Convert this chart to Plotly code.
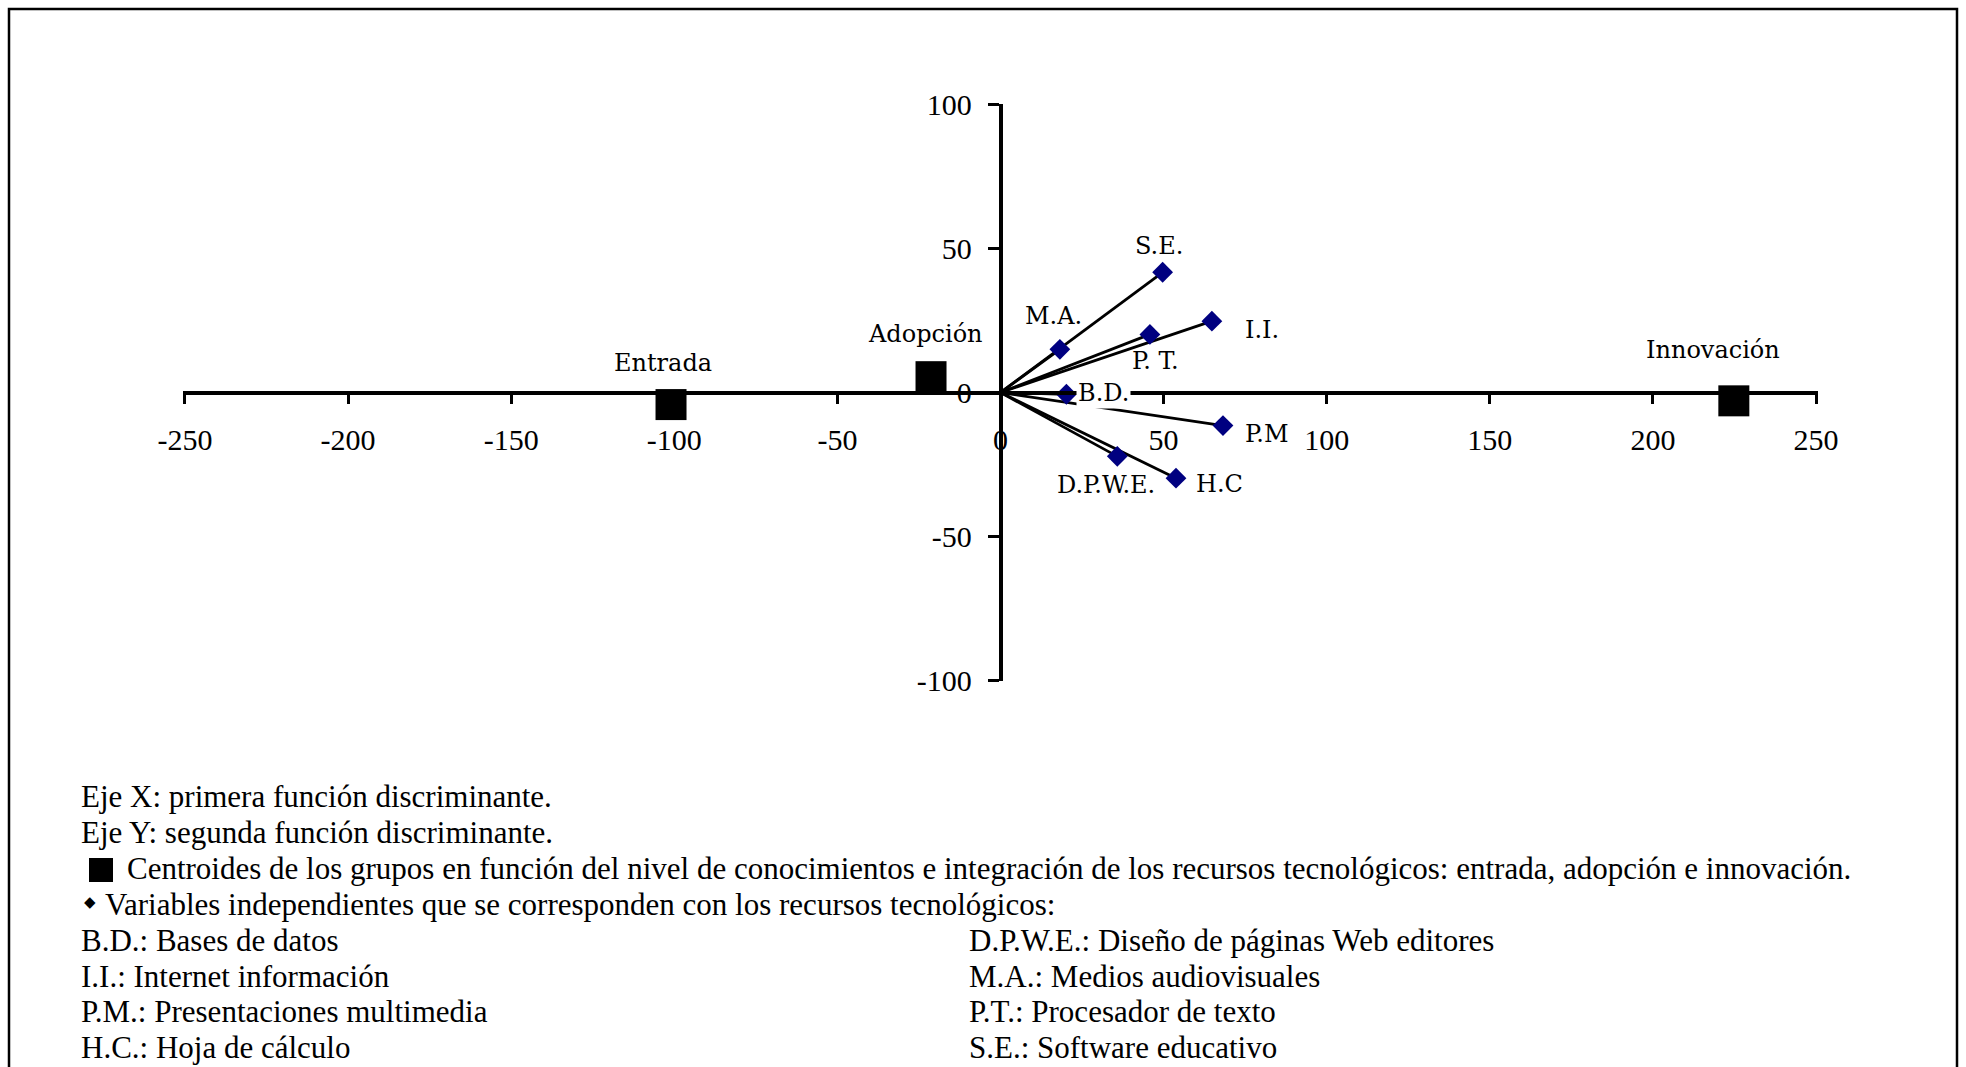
import plotly.graph_objects as go

# ---------------- data ----------------
var_labels = ["S.E.", "I.I.", "P. T.", "M.A.", "B.D.", "P.M", "D.P.W.E.", "H.C"]
var_x = [49.7, 64.8, 45.8, 18.2, 20.2, 68.2, 35.8, 53.8]
var_y = [41.8, 24.8, 20.2, 15.0, -0.6, -11.5, -22.2, -29.8]
var_label_x = [48.7, 80.2, 47.4, 16.1, 31.5, 81.7, 32.3, 67.2]
var_label_y = [50.8, 21.9, 11.0, 26.6, -0.2, -14.4, -32.3, -31.8]

group_labels = ["Entrada", "Adopción", "Innovación"]
group_x = [-101.0, -21.3, 224.8]
group_y = [-4.2, 5.5, -2.9]
group_label_x = [-103.6, -23.0, 218.5]
group_label_y = [10.3, 20.2, 14.7]

x_ticks = [-250, -200, -150, -100, -50, 0, 50, 100, 150, 200, 250]
y_ticks = [-100, -50, 0, 50, 100]

notes_left = [
    "Eje X: primera función discriminante.",
    "Eje Y: segunda función discriminante.",
]
note_square = "Centroides de los grupos en función del nivel de conocimientos e integración de los recursos tecnológicos: entrada, adopción e innovación."
note_diamond = "Variables independientes que se corresponden con los recursos tecnológicos:"
abbr_col1 = ["B.D.: Bases de datos", "I.I.: Internet información",
             "P.M.: Presentaciones multimedia", "H.C.: Hoja de cálculo"]
abbr_col2 = ["D.P.W.E.: Diseño de páginas Web editores", "M.A.: Medios audiovisuales",
             "P.T.: Procesador de texto", "S.E.: Software educativo"]

# ---------------- layout geometry ----------------
W, H = 1966, 1067
px_x0, px_x1 = 183, 1818      # x = -250 .. 250
px_y1, px_y0 = 104, 681       # y = 100 .. -100 (pixel from top)

def pxx(p):
    return p / W

def pxy(p):
    return 1 - p / H

fig = go.Figure()

# lines from origin to each variable
for vx, vy in zip(var_x, var_y):
    fig.add_trace(go.Scatter(x=[0, vx], y=[0, vy], mode="lines",
                             line=dict(color="black", width=2.8),
                             showlegend=False, hoverinfo="skip"))

# variable markers
fig.add_trace(go.Scatter(x=var_x, y=var_y, mode="markers",
                         marker=dict(symbol="diamond", size=16, color="#000080",
                                     line=dict(width=0)),
                         text=var_labels, showlegend=False))

# group centroids
fig.add_trace(go.Scatter(x=group_x, y=group_y, mode="markers",
                         marker=dict(symbol="square", size=31, color="black",
                                     line=dict(width=0)),
                         text=group_labels, showlegend=False))

label_font = dict(family="DejaVu Serif", size=24, color="black")
for t, lx, ly in zip(var_labels, var_label_x, var_label_y):
    fig.add_annotation(x=lx, y=ly, text=t, showarrow=False, font=label_font,
                       xanchor="center", yanchor="middle",
                       bgcolor="white" if t == "B.D." else None, borderpad=1)
for t, lx, ly in zip(group_labels, group_label_x, group_label_y):
    fig.add_annotation(x=lx, y=ly, text=t, showarrow=False, font=label_font,
                       xanchor="center", yanchor="middle")

# notes
note_font = dict(family="Liberation Serif", size=31, color="black")
line_ys = [796.5, 832.4, 868.3, 904.2, 940.1, 976.0, 1011.9, 1047.6]
left_px = 79
col2_px = 967
fig.add_annotation(xref="paper", yref="paper", x=pxx(left_px), y=pxy(line_ys[0]),
                   text=notes_left[0], showarrow=False, font=note_font,
                   xanchor="left", yanchor="middle")
fig.add_annotation(xref="paper", yref="paper", x=pxx(left_px), y=pxy(line_ys[1]),
                   text=notes_left[1], showarrow=False, font=note_font,
                   xanchor="left", yanchor="middle")
fig.add_shape(type="rect", xref="paper", yref="paper",
              x0=pxx(89), x1=pxx(113), y0=pxy(882), y1=pxy(858),
              fillcolor="black", line=dict(width=0))
fig.add_annotation(xref="paper", yref="paper", x=pxx(125), y=pxy(line_ys[2]),
                   text=note_square, showarrow=False, font=note_font,
                   xanchor="left", yanchor="middle")
fig.add_annotation(xref="paper", yref="paper", x=pxx(82), y=pxy(line_ys[3] - 2),
                   text="◆", showarrow=False,
                   font=dict(family="DejaVu Sans", size=15, color="black"),
                   xanchor="left", yanchor="middle")
fig.add_annotation(xref="paper", yref="paper", x=pxx(103), y=pxy(line_ys[3]),
                   text=note_diamond, showarrow=False, font=note_font,
                   xanchor="left", yanchor="middle")
for i, (a, b) in enumerate(zip(abbr_col1, abbr_col2)):
    fig.add_annotation(xref="paper", yref="paper", x=pxx(left_px), y=pxy(line_ys[4 + i]),
                       text=a, showarrow=False, font=note_font,
                       xanchor="left", yanchor="middle")
    fig.add_annotation(xref="paper", yref="paper", x=pxx(col2_px), y=pxy(line_ys[4 + i]),
                       text=b, showarrow=False, font=note_font,
                       xanchor="left", yanchor="middle")

# outer border
fig.add_shape(type="rect", xref="paper", yref="paper",
              x0=pxx(9), x1=pxx(1957), y0=-0.05, y1=pxy(9),
              line=dict(color="black", width=2.5), fillcolor="rgba(0,0,0,0)")

tick_font = dict(family="Liberation Serif", size=30, color="black")
xdom = [pxx(px_x0), pxx(px_x1)]
ydom = [pxy(px_y0), pxy(px_y1)]
fig.update_layout(
    template="none",
    width=W, height=H,
    margin=dict(l=0, r=0, t=0, b=0, autoexpand=False),
    paper_bgcolor="white", plot_bgcolor="white",
    showlegend=False,
    xaxis=dict(range=[-250.6, 250.6], domain=xdom, anchor="free",
               position=(ydom[0] + ydom[1]) / 2, automargin=False,
               tickvals=x_ticks, ticktext=[str(v) for v in x_ticks],
               ticks="outside", ticklen=10, tickwidth=3, tickcolor="black",
               showline=True, linewidth=3.5, linecolor="black",
               showgrid=False, zeroline=False, tickfont=tick_font,
               ticklabelstandoff=10),
    yaxis=dict(range=[-100.3, 100.3], domain=ydom, anchor="free",
               position=(xdom[0] + xdom[1]) / 2, automargin=False,
               tickvals=y_ticks, ticktext=[str(v) for v in y_ticks],
               ticks="outside", ticklen=11, tickwidth=3, tickcolor="black",
               showline=True, linewidth=3.5, linecolor="black",
               showgrid=False, zeroline=False, tickfont=tick_font,
               ticklabelstandoff=10),
)

fig.write_html("out.html", config={"displayModeBar": False},
               post_script="document.body.style.margin='0';document.body.style.overflow='hidden';")
